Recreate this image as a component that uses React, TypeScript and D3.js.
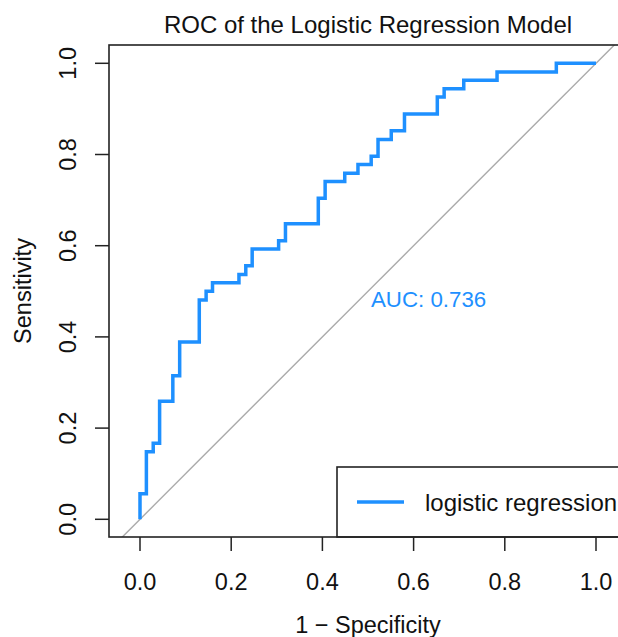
import * as d3 from 'd3'

// ROC steps: (1 - specificity, sensitivity)
const fpr = [0, 0.014, 0.029, 0.043, 0.072, 0.087, 0.130, 0.145, 0.159, 0.217, 0.232, 0.246, 0.304, 0.319, 0.391, 0.406, 0.449, 0.478, 0.507, 0.522, 0.551, 0.580, 0.652, 0.667, 0.710, 0.783, 0.913, 1]
const tpr = [0, 0.056, 0.148, 0.167, 0.259, 0.315, 0.389, 0.481, 0.500, 0.519, 0.537, 0.556, 0.593, 0.611, 0.648, 0.704, 0.741, 0.759, 0.778, 0.796, 0.833, 0.852, 0.889, 0.926, 0.944, 0.963, 0.981, 1]
const ticks = [0, 0.2, 0.4, 0.6, 0.8, 1.0]
const aucLabel = 'AUC: 0.736'
const legendLabel = 'logistic regression'

const W = 618
const H = 637
const box = { left: 109, top: 45, right: 627, bottom: 537 }
const blue = '#1E90FF'
const font = '"Liberation Sans", Arial, sans-serif'

const App = () => {
  const x = d3.scaleLinear().domain([0, 1]).range([140, 596])
  const y = d3.scaleLinear().domain([0, 1]).range([519.3, 63.3])

  const pts: [number, number][] = fpr.map((f, i) => [f, tpr[i]])
  const line = d3.line<[number, number]>()
    .x(d => x(d[0]))
    .y(d => y(d[1]))
    .curve(d3.curveStepBefore)

  const diagLo = x.invert(box.left - 40)
  const diagHi = x.invert(box.right + 40)

  return (
    <svg width={W} height={H} style={{ position: 'absolute', left: 0, top: 0, background: '#fff' }}
      fontFamily={font}>
      <defs>
        <clipPath id="plotclip">
          <rect x={box.left} y={box.top} width={box.right - box.left} height={box.bottom - box.top} />
        </clipPath>
      </defs>
      <rect width={W} height={H} fill="#fff" />

      <text x={368} y={33} textAnchor="middle" fontSize={24} fill="#111">
        ROC of the Logistic Regression Model
      </text>

      <g clipPath="url(#plotclip)">
        <line x1={x(diagLo)} y1={y(diagLo)} x2={x(diagHi)} y2={y(diagHi)}
          stroke="#aaaaaa" strokeWidth={1.4} />
        <path d={line(pts) ?? ''} fill="none" stroke={blue} strokeWidth={3.5} strokeLinejoin="miter" />
      </g>

      <text x={371} y={307} fontSize={22.3} fill={blue}>{aucLabel}</text>

      {/* legend */}
      <rect x={337} y={467} width={box.right - 337} height={box.bottom - 467}
        fill="#fff" stroke="#222" strokeWidth={1.6} />
      <line x1={357} x2={404} y1={502} y2={502} stroke={blue} strokeWidth={3.5} />
      <text x={425} y={511} fontSize={24} fill="#111">{legendLabel}</text>

      <rect x={box.left} y={box.top} width={box.right - box.left} height={box.bottom - box.top}
        fill="none" stroke="#222" strokeWidth={1.6} />

      {/* x axis */}
      {ticks.map(t => (
        <g key={'x' + t}>
          <line x1={x(t)} x2={x(t)} y1={box.bottom} y2={box.bottom + 14} stroke="#222" strokeWidth={1.5} />
          <text x={x(t)} y={590} textAnchor="middle" fontSize={23.5} fill="#111">{t.toFixed(1)}</text>
        </g>
      ))}
      <text x={368} y={633} textAnchor="middle" fontSize={23.5} fill="#111">1 − Specificity</text>

      {/* y axis */}
      {ticks.map(t => (
        <g key={'y' + t}>
          <line x1={box.left - 14} x2={box.left} y1={y(t)} y2={y(t)} stroke="#222" strokeWidth={1.5} />
          <text transform={`translate(76,${y(t)}) rotate(-90)`} textAnchor="middle" fontSize={23.5} fill="#111">
            {t.toFixed(1)}
          </text>
        </g>
      ))}
      <text transform={`translate(31,${(box.top + box.bottom) / 2}) rotate(-90)`} textAnchor="middle"
        fontSize={23.5} fill="#111">Sensitivity</text>
    </svg>
  )
}

export default App
